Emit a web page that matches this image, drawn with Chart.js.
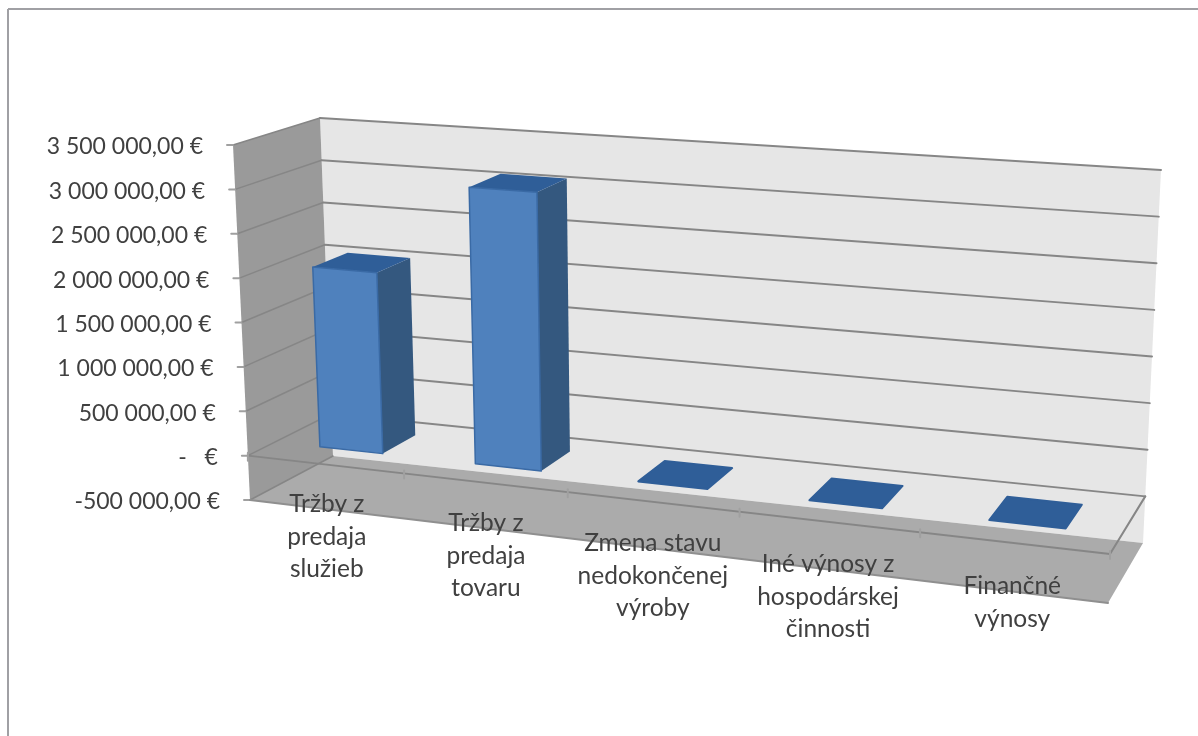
<!DOCTYPE html>
<html>
<head>
<meta charset="utf-8">
<title>Výnosy</title>
<script src="https://cdn.jsdelivr.net/npm/chart.js@4"></script>
<style>
  html, body { margin: 0; padding: 0; background: #fff; }
  canvas { display: block; }
</style>
</head>
<body>
<canvas id="chart" width="1198" height="736"></canvas>
<script>
const categories = [
  ['Tržby z', 'predaja', 'služieb'],
  ['Tržby z', 'predaja', 'tovaru'],
  ['Zmena stavu', 'nedokončenej', 'výroby'],
  ['Iné výnosy z', 'hospodárskej', 'činnosti'],
  ['Finančné', 'výnosy']
];
const values = [2045000, 3090000, 4000, 4000, 4000];
const tickLabels = [
  '-500 000,00 €', '-   €', '500 000,00 €', '1 000 000,00 €', '1 500 000,00 €',
  '2 000 000,00 €', '2 500 000,00 €', '3 000 000,00 €', '3 500 000,00 €'
];

// corners of the 3d box as they land on the page, [front, back]
const corners = {
  bottomLeft: [[250, 500], [333, 456]],
  bottomRight: [[1108, 603], [1143, 543]],
  topLeft: [[233, 145], [320, 118]],
  topRight: [[1124, 211], [1161, 170]]
};
const perspective = 1.13;
const barDepth = [0.33, 0.75];

const mix = (a, b, t) => [a[0] + (b[0] - a[0]) * t, a[1] + (b[1] - a[1]) * t];

// t: 0..1 along categories, h: 0..1 along values, d: 0 front .. 1 back
const project = (t, h, d) => {
  const s = t / (perspective - (perspective - 1) * t);
  const bottom = mix(mix(corners.bottomLeft[0], corners.bottomRight[0], s), mix(corners.bottomLeft[1], corners.bottomRight[1], s), d);
  const top = mix(mix(corners.topLeft[0], corners.topRight[0], s), mix(corners.topLeft[1], corners.topRight[1], s), d);
  return mix(bottom, top, h);
};

const poly = (ctx, pts, fill, stroke, lw) => {
  ctx.beginPath();
  pts.forEach((p, i) => i ? ctx.lineTo(p[0], p[1]) : ctx.moveTo(p[0], p[1]));
  ctx.closePath();
  if (fill) { ctx.fillStyle = fill; ctx.fill(); }
  if (stroke) { ctx.strokeStyle = stroke; ctx.lineWidth = lw || 1; ctx.lineJoin = 'round'; ctx.stroke(); }
};

const line = (ctx, a, b, color, lw) => {
  ctx.beginPath();
  ctx.moveTo(a[0], a[1]);
  ctx.lineTo(b[0], b[1]);
  ctx.strokeStyle = color;
  ctx.lineWidth = lw;
  ctx.stroke();
};

const box3d = {
  id: 'box3d',
  beforeDatasetsDraw(chart) {
    const { ctx, chartArea: area, scales: { x, y } } = chart;
    const toT = px => (px - area.left) / area.width;
    const toH = py => (area.bottom - py) / area.height;
    const gridColor = '#868686';
    const zero = toH(y.getPixelForValue(0));

    // frame, only top and left show in the picture
    ctx.save();
    line(ctx, [8, 736], [8, 9], '#a0a0a4', 2);
    line(ctx, [8, 9], [1198, 9], '#a0a0a4', 2);

    // walls and floor
    poly(ctx, [project(0, 0, 1), project(1, 0, 1), project(1, 1, 1), project(0, 1, 1)], '#e6e6e6');
    poly(ctx, [project(0, 0, 0), project(0, 0, 1), project(0, 1, 1), project(0, 1, 0)], '#9a9a9a');
    poly(ctx, [project(0, 0, 0), project(1, 0, 0), project(1, 0, 1), project(0, 0, 1)], '#ababab');

    // value grid lines and axis labels
    ctx.lineCap = 'round';
    y.ticks.forEach(tick => {
      const h = toH(y.getPixelForValue(tick.value));
      if (tick.value !== y.min) line(ctx, project(0, h, 1), project(1, h, 1), gridColor, 2);
      line(ctx, project(0, h, 0), project(0, h, 1), gridColor, 1.5);
      const p = project(0, h, 0);
      line(ctx, [p[0] - 6, p[1]], p, '#a0a0a0', 2);
      ctx.fillStyle = '#404040';
      ctx.font = '23px Lato';
      ctx.textAlign = 'right';
      ctx.textBaseline = 'middle';
      ctx.fillText(tick.label, p[0] - 30, p[1] + 2);
    });

    // zero plane edges and floor edge
    line(ctx, project(0, zero, 0), project(1, zero, 0), gridColor, 2);
    line(ctx, project(1, zero, 0), project(1, zero, 1), gridColor, 2);
    line(ctx, project(0, 0, 0), project(1, 0, 0), '#8f8f8f', 2);

    // category ticks on the zero plane
    for (let i = 0; i <= categories.length; i++) {
      const p = project(i / categories.length, zero, 0);
      line(ctx, [p[0], p[1] - 3], [p[0], p[1] + 5], '#a0a0a0', 2);
    }

    // bars, taken from the bar elements of the dataset
    chart.getDatasetMeta(0).data.forEach(bar => {
      const t0 = toT(bar.x - bar.width / 2);
      const t1 = toT(bar.x + bar.width / 2);
      const h0 = toH(bar.base);
      const h1 = toH(bar.y);
      const [d0, d1] = barDepth;
      const edge = '#3a6aa5';
      if (h1 - h0 > 0.02) {
        poly(ctx, [project(t1, h0, d0), project(t1, h0, d1), project(t1, h1, d1), project(t1, h1, d0)], '#34587f');
        poly(ctx, [project(t0, h1, d0), project(t1, h1, d0), project(t1, h1, d1), project(t0, h1, d1)], '#2f5e98');
        poly(ctx, [project(t0, h0, d0), project(t1, h0, d0), project(t1, h1, d0), project(t0, h1, d0)], '#4f81bd', edge, 1.5);
      } else {
        poly(ctx, [project(t0, h1, d0), project(t1, h1, d0), project(t1, h1, d1), project(t0, h1, d1)], '#2f5e98', '#2f5e98', 2);
      }
    });

    // category labels
    ctx.fillStyle = '#404040';
    ctx.font = '24.5px Lato';
    ctx.textAlign = 'center';
    ctx.textBaseline = 'middle';
    x.ticks.forEach((tick, i) => {
      const p = project(toT(x.getPixelForTick(i)), 0, 0);
      [].concat(tick.label).forEach((text, n) => ctx.fillText(text, p[0], p[1] - 5 + n * 32.5));
    });
    ctx.restore();
    return false; // faces above replace the flat bars
  }
};

new Chart(document.getElementById('chart'), {
  type: 'bar',
  data: {
    labels: categories,
    datasets: [{ label: 'Výnosy', data: values, backgroundColor: '#4f81bd', categoryPercentage: 1, barPercentage: 0.41 }]
  },
  options: {
    responsive: false,
    animation: false,
    plugins: { legend: { display: false }, tooltip: { enabled: false }, title: { display: false } },
    scales: {
      x: { grid: { display: false }, border: { display: false }, ticks: { display: false, autoSkip: false } },
      y: {
        min: -500000, max: 3500000,
        grid: { display: false }, border: { display: false },
        ticks: { display: false, stepSize: 500000, callback: (v, i) => tickLabels[i] }
      }
    }
  },
  plugins: [box3d]
});
</script>
</body>
</html>
